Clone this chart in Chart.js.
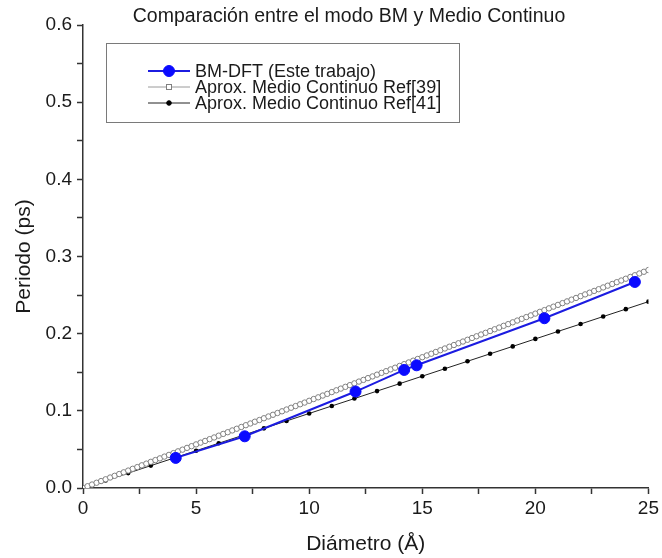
<!DOCTYPE html>
<html>
<head>
<meta charset="utf-8">
<script src="https://cdn.jsdelivr.net/npm/chart.js@4/dist/chart.umd.min.js"></script>
<style>
  html, body { margin: 0; padding: 0; background: #fff; }
  canvas { display: block; }
</style>
</head>
<body>
<canvas id="periodChart" width="662" height="558"></canvas>
<script>
"use strict";

const chartTitle = "Comparación entre el modo BM y Medio Continuo";
const xAxisTitle = "Diámetro (Å)";
const yAxisTitle = "Periodo (ps)";

const seriesNames = [
  "BM-DFT (Este trabajo)",
  "Aprox. Medio Continuo Ref[39]",
  "Aprox. Medio Continuo Ref[41]",
];

// BM-DFT results
const bmDiameter = [4.1, 7.15, 12.05, 14.2, 14.75, 20.4, 24.4];
const bmPeriod = [0.039, 0.067, 0.125, 0.153, 0.159, 0.220, 0.267];

// continuum model, Ref[39]
const ref39Diameter = [
  0, 0.2, 0.4, 0.6, 0.8, 1, 1.2, 1.4, 1.6, 1.8, 2, 2.2, 2.4, 2.6, 2.8, 3,
  3.2, 3.4, 3.6, 3.8, 4, 4.2, 4.4, 4.6, 4.8, 5, 5.2, 5.4, 5.6, 5.8, 6, 6.2,
  6.4, 6.6, 6.8, 7, 7.2, 7.4, 7.6, 7.8, 8, 8.2, 8.4, 8.6, 8.8, 9, 9.2, 9.4,
  9.6, 9.8, 10, 10.2, 10.4, 10.6, 10.8, 11, 11.2, 11.4, 11.6, 11.8, 12,
  12.2, 12.4, 12.6, 12.8, 13, 13.2, 13.4, 13.6, 13.8, 14, 14.2, 14.4, 14.6,
  14.8, 15, 15.2, 15.4, 15.6, 15.8, 16, 16.2, 16.4, 16.6, 16.8, 17, 17.2,
  17.4, 17.6, 17.8, 18, 18.2, 18.4, 18.6, 18.8, 19, 19.2, 19.4, 19.6, 19.8,
  20, 20.2, 20.4, 20.6, 20.8, 21, 21.2, 21.4, 21.6, 21.8, 22, 22.2, 22.4,
  22.6, 22.8, 23, 23.2, 23.4, 23.6, 23.8, 24, 24.2, 24.4, 24.6, 24.8, 25,
];
const ref39Period = [
  0, 0.0023, 0.0045, 0.0068, 0.0090, 0.0113, 0.0136, 0.0158, 0.0181, 0.0203,
  0.0226, 0.0249, 0.0271, 0.0294, 0.0316, 0.0339, 0.0362, 0.0384, 0.0407, 0.0429,
  0.0452, 0.0475, 0.0497, 0.0520, 0.0542, 0.0565, 0.0588, 0.0610, 0.0633, 0.0655,
  0.0678, 0.0701, 0.0723, 0.0746, 0.0768, 0.0791, 0.0814, 0.0836, 0.0859, 0.0881,
  0.0904, 0.0927, 0.0949, 0.0972, 0.0994, 0.1017, 0.1040, 0.1062, 0.1085, 0.1107,
  0.1130, 0.1153, 0.1175, 0.1198, 0.1220, 0.1243, 0.1266, 0.1288, 0.1311, 0.1333,
  0.1356, 0.1379, 0.1401, 0.1424, 0.1446, 0.1469, 0.1492, 0.1514, 0.1537, 0.1559,
  0.1582, 0.1605, 0.1627, 0.1650, 0.1672, 0.1695, 0.1718, 0.1740, 0.1763, 0.1785,
  0.1808, 0.1831, 0.1853, 0.1876, 0.1898, 0.1921, 0.1944, 0.1966, 0.1989, 0.2011,
  0.2034, 0.2057, 0.2079, 0.2102, 0.2124, 0.2147, 0.2170, 0.2192, 0.2215, 0.2237,
  0.2260, 0.2283, 0.2305, 0.2328, 0.2350, 0.2373, 0.2396, 0.2418, 0.2441, 0.2463,
  0.2486, 0.2509, 0.2531, 0.2554, 0.2576, 0.2599, 0.2622, 0.2644, 0.2667, 0.2689,
  0.2712, 0.2735, 0.2757, 0.2780, 0.2802, 0.2825,
];

// continuum model, Ref[41]
const ref41Diameter = [
  0, 1, 2, 3, 4, 5, 6, 7, 8, 9, 10, 11, 12, 13, 14, 15, 16, 17, 18, 19, 20,
  21, 22, 23, 24, 25,
];
const ref41Period = [
  0, 0.0097, 0.0193, 0.0290, 0.0386, 0.0483, 0.0580, 0.0676, 0.0773, 0.0869,
  0.0966, 0.1063, 0.1159, 0.1256, 0.1352, 0.1449, 0.1546, 0.1642, 0.1739,
  0.1835, 0.1932, 0.2029, 0.2125, 0.2222, 0.2318, 0.2415,
];

const xTickLabels = ["0", "5", "10", "15", "20", "25"];
const yTickLabels = ["0.0", "0.1", "0.2", "0.3", "0.4", "0.5", "0.6"];

function toPoints(xs, ys) {
  return xs.map((x, i) => ({ x: x, y: ys[i] }));
}

const textColor = "#1a1a1a";
const fontFamily = "'Liberation Sans', Arial, sans-serif";

// title drawn on its own so it can sit slightly left of the plot centre
const titlePlugin = {
  id: "plotTitle",
  afterDraw(chart) {
    const c = chart.ctx;
    c.save();
    c.font = "19.5px " + fontFamily;
    c.fillStyle = textColor;
    c.textAlign = "center";
    c.textBaseline = "middle";
    c.fillText(chartTitle, 349, 17);
    c.restore();
  },
};

// framed legend with line + marker samples
const legendPlugin = {
  id: "framedLegend",
  afterDraw(chart) {
    const c = chart.ctx;
    const box = { left: 106, top: 43, right: 459, bottom: 122 };
    c.save();
    c.strokeStyle = "#7a7a7a";
    c.lineWidth = 1;
    c.strokeRect(box.left + 0.5, box.top + 0.5, box.right - box.left, box.bottom - box.top);

    const rowY = [71, 87, 103];
    c.font = "18px " + fontFamily;
    c.textBaseline = "middle";
    chart.data.datasets.forEach((ds, i) => {
      const y = rowY[i];
      c.strokeStyle = ds.borderColor;
      c.lineWidth = ds.borderWidth;
      c.beginPath();
      c.moveTo(148, y);
      c.lineTo(190, y);
      c.stroke();

      const r = ds.legendRadius;
      c.fillStyle = ds.pointBackgroundColor;
      c.strokeStyle = ds.pointBorderColor;
      c.lineWidth = 1;
      if (ds.legendMarker === "square") {
        c.fillRect(169 - r, y - r, 2 * r, 2 * r);
        c.strokeRect(169 - r, y - r, 2 * r, 2 * r);
      } else {
        c.beginPath();
        c.arc(169, y, r, 0, Math.PI * 2);
        c.fill();
        c.stroke();
      }

      c.fillStyle = textColor;
      c.fillText(ds.label, 195, y + 1);
    });
    c.restore();
  },
};

new Chart(document.getElementById("periodChart"), {
  type: "line",
  data: {
    datasets: [
      {
        label: seriesNames[0],
        data: toPoints(bmDiameter, bmPeriod),
        borderColor: "#1c1ce0",
        borderWidth: 2,
        pointRadius: 5.5,
        pointBackgroundColor: "#0a0aff",
        pointBorderColor: "#0a0aff",
        pointBorderWidth: 1,
        legendMarker: "circle",
        legendRadius: 5.5,
      },
      {
        label: seriesNames[1],
        data: toPoints(ref39Diameter, ref39Period),
        borderColor: "#9a9a9a",
        borderWidth: 1,
        pointRadius: 2.7,
        pointBackgroundColor: "#ffffff",
        pointBorderColor: "#808080",
        pointBorderWidth: 1,
        legendMarker: "square",
        legendRadius: 2.5,
      },
      {
        label: seriesNames[2],
        data: toPoints(ref41Diameter, ref41Period),
        borderColor: "#222222",
        borderWidth: 1,
        pointRadius: 2.3,
        pointBackgroundColor: "#000000",
        pointBorderColor: "#000000",
        pointBorderWidth: 0,
        legendMarker: "circle",
        legendRadius: 2.3,
      },
    ],
  },
  options: {
    responsive: false,
    animation: false,
    devicePixelRatio: 1,
    layout: { padding: { top: 25, right: 10, left: 0, bottom: 0 } },
    plugins: {
      legend: { display: false },
      tooltip: { enabled: false },
      title: { display: false },
    },
    elements: { line: { tension: 0 } },
    scales: {
      x: {
        type: "linear",
        min: 0,
        max: 25,
        afterFit(scale) { scale.height = 70; },
        ticks: {
          stepSize: 2.5,
          autoSkip: false,
          maxRotation: 0,
          padding: 3,
          color: textColor,
          font: { family: fontFamily, size: 19 },
          callback: (v) => (v % 5 === 0 ? xTickLabels[v / 5] : ""),
        },
        grid: {
          drawOnChartArea: false,
          drawTicks: true,
          tickLength: 6,
          tickColor: "#333",
          tickWidth: 1.5,
        },
        border: { color: "#333", width: 1.5 },
        title: {
          display: true,
          text: xAxisTitle,
          color: textColor,
          font: { family: fontFamily, size: 21 },
          padding: { top: 0, bottom: 1 },
        },
      },
      y: {
        min: 0,
        max: 0.6,
        afterFit(scale) { scale.width = 83; },
        ticks: {
          stepSize: 0.05,
          autoSkip: false,
          padding: 5,
          color: textColor,
          font: { family: fontFamily, size: 19 },
          callback: (v) => {
            const k = Math.round(v * 20);
            return k % 2 === 0 ? yTickLabels[k / 2] : "";
          },
        },
        grid: {
          drawOnChartArea: false,
          drawTicks: true,
          tickLength: 6,
          tickColor: "#333",
          tickWidth: 1.5,
        },
        border: { color: "#333", width: 1.5 },
        title: {
          display: true,
          text: yAxisTitle,
          color: textColor,
          font: { family: fontFamily, size: 21 },
          padding: { top: 12, bottom: 0 },
        },
      },
    },
  },
  plugins: [titlePlugin, legendPlugin],
});
</script>
</body>
</html>
